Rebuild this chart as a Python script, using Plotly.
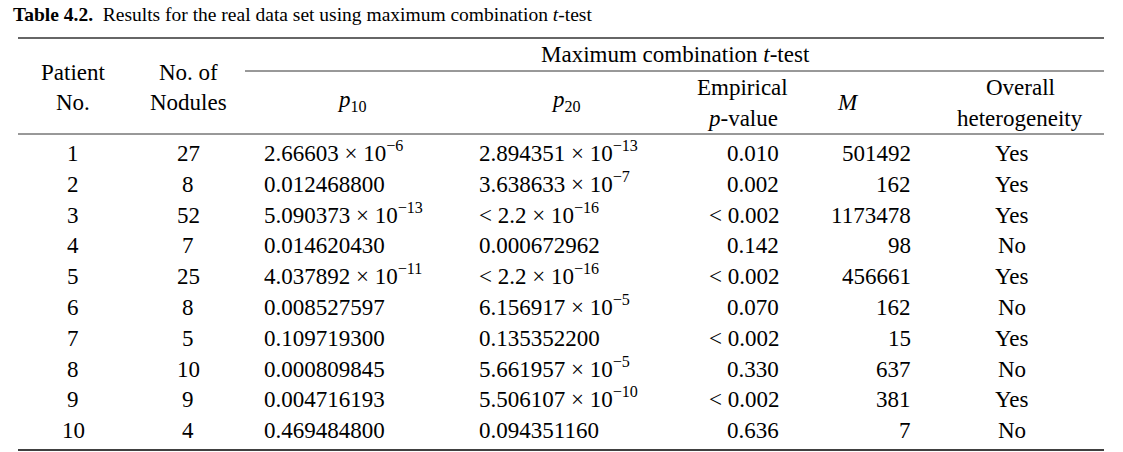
import plotly.graph_objects as go

# ---- data ----
patients = ["1", "2", "3", "4", "5", "6", "7", "8", "9", "10"]
nodules = ["27", "8", "52", "7", "25", "8", "5", "10", "9", "4"]
p10 = ["2.66603 × 10^−6", "0.012468800", "5.090373 × 10^−13", "0.014620430",
       "4.037892 × 10^−11", "0.008527597", "0.109719300", "0.000809845",
       "0.004716193", "0.469484800"]
p20 = ["2.894351 × 10^−13", "3.638633 × 10^−7", "< 2.2 × 10^−16", "0.000672962",
       "< 2.2 × 10^−16", "6.156917 × 10^−5", "0.135352200", "5.661957 × 10^−5",
       "5.506107 × 10^−10", "0.094351160"]
emp_p = ["0.010", "0.002", "< 0.002", "0.142", "< 0.002", "0.070", "< 0.002",
         "0.330", "< 0.002", "0.636"]
M_vals = ["501492", "162", "1173478", "98", "456661", "162", "15", "637", "381", "7"]
hetero = ["Yes", "Yes", "Yes", "No", "Yes", "No", "Yes", "No", "Yes", "No"]

title_bold = "Table 4.2."
title_text = "Results for the real data set using maximum combination <i>t</i>-test"

FONT = "Liberation Serif"
FS = 23
W, H = 1123, 452
HALF = 16  # half height of a plain single-line annotation box


def fmt(s):
    if "^" in s:
        base, exp = s.split("^")
        return f"{base}<sup>{exp}</sup>"
    return s


fig = go.Figure()
fig.add_trace(go.Scatter(x=[0, W], y=[0, H], mode="markers",
                         marker=dict(opacity=0), hoverinfo="skip", showlegend=False))

ann = []


def add(x, y, text, anchor="center", size=FS, vanchor="bottom"):
    # y is the visual centre of a plain line; anchor on the baseline side so that
    # super/subscripts do not shift the baseline
    if vanchor == "bottom":
        yy = y + HALF * size / FS
    elif vanchor == "top":
        yy = y - HALF * size / FS
    else:
        yy = y
    ann.append(dict(x=x, y=yy, xref="x", yref="y", text=text, showarrow=False,
                    xanchor=anchor, yanchor=vanchor,
                    font=dict(family=FONT, size=size, color="black")))


# title
add(11, 13, f"<b>{title_bold}</b>  {title_text}", "left", 19.5)

# header
add(675, 53, "Maximum combination <i>t</i>-test")
add(73, 71, "Patient")
add(73, 101, "No.")
add(188, 71, "No. of")
add(188, 101, "Nodules")
add(352, 101, "<i>p</i><sub>10</sub>", vanchor="top")
add(566, 101, "<i>p</i><sub>20</sub>", vanchor="top")
add(742, 86, "Empirical")
add(742, 117, "<i>p</i>-value")
add(848, 101, "<i>M</i>")
add(1020, 86, "Overall")
add(1020, 117, "heterogeneity")

# body
y0, dy = 152, 30.8
cols = [
    (patients, 73, "center"),
    (nodules, 188, "center"),
    (p10, 262, "left"),
    (p20, 477, "left"),
    (emp_p, 781, "right"),
    (M_vals, 913, "right"),
    (hetero, 1012, "center"),
]
for values, x, anchor in cols:
    for i, v in enumerate(values):
        add(x, y0 + i * dy, fmt(v), anchor)

shapes = [
    dict(type="line", xref="x", yref="y", x0=18, x1=1104, y0=38, y1=38,
         line=dict(color="#333", width=1.6)),
    dict(type="line", xref="x", yref="y", x0=245, x1=1104, y0=71, y1=71,
         line=dict(color="#333", width=1)),
    dict(type="line", xref="x", yref="y", x0=18, x1=1104, y0=134, y1=134,
         line=dict(color="#333", width=1)),
    dict(type="line", xref="x", yref="y", x0=18, x1=1104, y0=450, y1=450,
         line=dict(color="black", width=1.6)),
]

fig.update_layout(
    width=W, height=H, margin=dict(l=0, r=0, t=0, b=0),
    paper_bgcolor="white", plot_bgcolor="white",
    xaxis=dict(range=[0, W], visible=False, fixedrange=True),
    yaxis=dict(range=[H, 0], visible=False, fixedrange=True),
    annotations=ann, shapes=shapes, showlegend=False,
)

fig.write_html("out.html", post_script="document.body.style.margin='0';",
               config={"displayModeBar": False})
